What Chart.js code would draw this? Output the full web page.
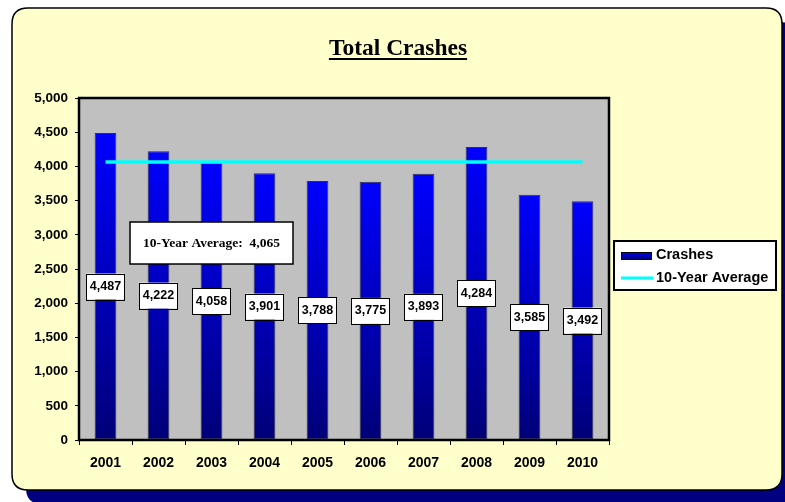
<!DOCTYPE html>
<html>
<head>
<meta charset="utf-8">
<script src="https://cdn.jsdelivr.net/npm/chart.js@4"></script>
<style>
html,body{margin:0;padding:0;background:#fff;}
canvas{display:block;}
</style>
</head>
<body>
<canvas id="c" width="785" height="502"></canvas>
<script>
const YEARS = ['2001','2002','2003','2004','2005','2006','2007','2008','2009','2010'];
const CRASHES = [4487, 4222, 4058, 3901, 3788, 3775, 3893, 4284, 3585, 3492];
const AVERAGE = [4065, 4065, 4065, 4065, 4065, 4065, 4065, 4065, 4065, 4065];
const Y_TICKS = [0, 500, 1000, 1500, 2000, 2500, 3000, 3500, 4000, 4500, 5000];
const TITLE = 'Total Crashes';
const NOTE = '10-Year Average:  4,065';

const fmt = v => v.toLocaleString('en-US');

function roundRect(ctx, x, y, w, h, r) {
  ctx.beginPath();
  ctx.moveTo(x + r, y);
  ctx.lineTo(x + w - r, y);
  ctx.quadraticCurveTo(x + w, y, x + w, y + r);
  ctx.lineTo(x + w, y + h - r);
  ctx.quadraticCurveTo(x + w, y + h, x + w - r, y + h);
  ctx.lineTo(x + r, y + h);
  ctx.quadraticCurveTo(x, y + h, x, y + h - r);
  ctx.lineTo(x, y + r);
  ctx.quadraticCurveTo(x, y, x + r, y);
  ctx.closePath();
}

const decor = {
  id: 'decor',
  beforeDraw(chart) {
    const ctx = chart.ctx;
    const a = chart.chartArea;
    ctx.save();
    ctx.fillStyle = '#000080';
    roundRect(ctx, 26, 22, 770, 482, 16);
    ctx.fill();
    ctx.fillStyle = '#FFFFCC';
    roundRect(ctx, 12, 8, 770, 482, 16);
    ctx.fill();
    ctx.lineWidth = 1.5;
    ctx.strokeStyle = '#000';
    ctx.stroke();
    ctx.fillStyle = '#C0C0C0';
    ctx.fillRect(a.left, a.top, a.right - a.left, a.bottom - a.top);
    ctx.fillStyle = '#000';
    ctx.font = 'bold 23.5px "Liberation Serif", "Times New Roman", serif';
    ctx.textAlign = 'center';
    ctx.textBaseline = 'alphabetic';
    const tx = 398, ty = 55;
    ctx.fillText(TITLE, tx, ty);
    const tw = ctx.measureText(TITLE).width;
    ctx.fillRect(tx - tw / 2, ty + 3, tw, 2);
    ctx.restore();
  },
  afterDraw(chart) {
    const ctx = chart.ctx;
    const a = chart.chartArea;
    const xs = chart.scales.x, ys = chart.scales.y;
    ctx.save();
    ctx.strokeStyle = '#000';
    ctx.lineWidth = 2.5;
    ctx.strokeRect(a.left, a.top, a.right - a.left, a.bottom - a.top);
    const meta = chart.getDatasetMeta(0);
    ctx.font = 'bold 12.5px "Liberation Sans", Arial, sans-serif';
    ctx.textAlign = 'center';
    ctx.textBaseline = 'middle';
    meta.data.forEach((el, i) => {
      const v = CRASHES[i];
      const cx = el.x;
      const cy = ys.getPixelForValue(v / 2);
      const txt = fmt(v);
      const w = ctx.measureText(txt).width + 7;
      const h = 26;
      ctx.fillStyle = '#fff';
      ctx.fillRect(cx - w / 2, cy - h / 2, w, h);
      ctx.lineWidth = 1;
      ctx.strokeStyle = '#000';
      ctx.strokeRect(Math.round(cx - w / 2) + 0.5, Math.round(cy - h / 2) + 0.5, Math.round(w), h);
      ctx.fillStyle = '#000';
      ctx.fillText(txt, cx, cy);
    });
    const nx = xs.getPixelForValue(2);
    const ny = ys.getPixelForValue(2880);
    ctx.font = 'bold 13.5px "Liberation Serif", "Times New Roman", serif';
    const nw = 163, nh = 42;
    ctx.fillStyle = '#fff';
    ctx.fillRect(nx - nw / 2, ny - nh / 2, nw, nh);
    ctx.lineWidth = 1.5;
    ctx.strokeStyle = '#000';
    ctx.strokeRect(nx - nw / 2, ny - nh / 2, nw, nh);
    ctx.fillStyle = '#000';
    ctx.fillText(NOTE, nx, ny + 1);
    const lx = 614, ly = 241, lw = 162, lh = 49;
    ctx.fillStyle = '#fff';
    ctx.fillRect(lx, ly, lw, lh);
    ctx.lineWidth = 2;
    ctx.strokeStyle = '#000';
    ctx.strokeRect(lx, ly, lw, lh);
    const ds = chart.data.datasets;
    ctx.font = 'bold 14.5px "Liberation Sans", Arial, sans-serif';
    ctx.textAlign = 'left';
    const g = ctx.createLinearGradient(0, 252, 0, 259);
    g.addColorStop(0, '#0000FF');
    g.addColorStop(1, '#000080');
    ctx.fillStyle = g;
    ctx.fillRect(621, 252, 31, 7);
    ctx.lineWidth = 1;
    ctx.strokeStyle = '#000';
    ctx.strokeRect(621.5, 252.5, 30, 7);
    ctx.fillStyle = '#000';
    ctx.fillText(ds[0].label, 656, 255);
    ctx.strokeStyle = ds[1].borderColor;
    ctx.lineWidth = 3;
    ctx.beginPath();
    ctx.moveTo(621, 278);
    ctx.lineTo(653, 278);
    ctx.stroke();
    ctx.fillStyle = '#000';
    ctx.fillText(ds[1].label, 656, 278);
    ctx.restore();
  }
};

new Chart(document.getElementById('c'), {
  data: {
    labels: YEARS,
    datasets: [
      {
        type: 'bar',
        label: 'Crashes',
        data: CRASHES,
        order: 2,
        barPercentage: 0.41,
        categoryPercentage: 1.0,
        borderWidth: 1,
        borderColor: '#333333',
        borderSkipped: false,
        backgroundColor: (c) => {
          const chart = c.chart;
          if (!chart.chartArea || c.dataIndex === undefined) return '#0000CC';
          const ys = chart.scales.y;
          const v = CRASHES[c.dataIndex];
          const top = ys.getPixelForValue(v);
          const bot = ys.getPixelForValue(0);
          const g = chart.ctx.createLinearGradient(0, top, 0, bot);
          g.addColorStop(0, '#0000FF');
          g.addColorStop(1, '#000078');
          return g;
        }
      },
      {
        type: 'line',
        label: '10-Year Average',
        data: AVERAGE,
        order: 1,
        borderColor: '#00FFFF',
        borderWidth: 3.5,
        pointRadius: 0,
        fill: false,
        tension: 0
      }
    ]
  },
  options: {
    responsive: false,
    animation: false,
    events: [],
    layout: { padding: { left: 0, top: 98, right: 176, bottom: 0 } },
    plugins: { legend: { display: false }, title: { display: false }, tooltip: { enabled: false } },
    scales: {
      x: {
        offset: true,
        afterFit: s => { s.height = 62; },
        border: { display: false },
        grid: { offset: true, drawOnChartArea: false, tickLength: 5, color: '#000', lineWidth: 1 },
        ticks: { color: '#000', padding: 10, font: { family: '"Liberation Sans", Arial, sans-serif', size: 14, weight: 'bold' } }
      },
      y: {
        min: 0,
        max: 5000,
        afterFit: s => { s.width = 79; },
        afterBuildTicks: s => { s.ticks = Y_TICKS.map(v => ({ value: v })); },
        border: { display: false },
        grid: { drawOnChartArea: false, tickLength: 4, color: '#000', lineWidth: 1 },
        ticks: {
          color: '#000',
          padding: 7,
          font: { family: '"Liberation Sans", Arial, sans-serif', size: 13.5, weight: 'bold' },
          callback: v => fmt(v)
        }
      }
    }
  },
  plugins: [decor]
});
</script>
</body>
</html>
